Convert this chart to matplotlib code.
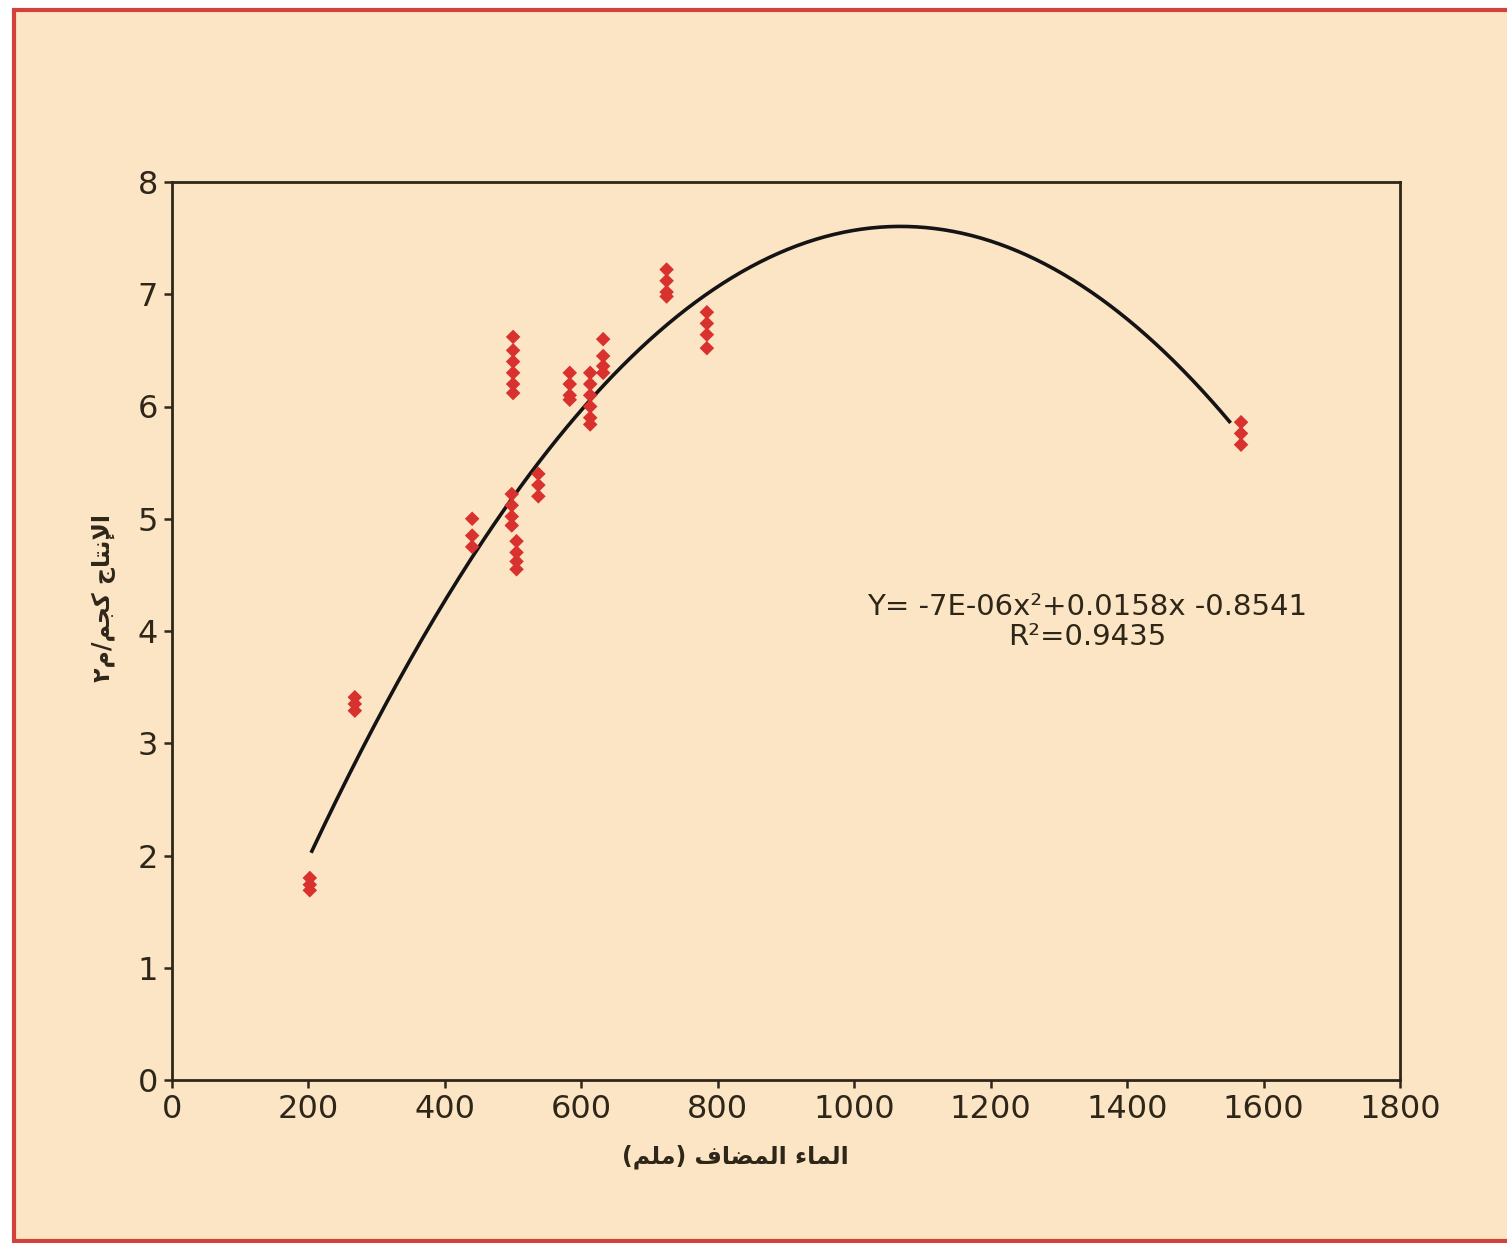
import numpy as np
import matplotlib
matplotlib.use("Agg")
import matplotlib.pyplot as plt
from matplotlib.patches import Rectangle

# ---- data ----
water_mm = [202, 202, 202,
            268, 268, 268,
            440, 440, 440,
            500, 500, 500, 500, 500, 500,
            498, 498, 498, 498,
            505, 505, 505, 505,
            537, 537, 537,
            583, 583, 583, 583,
            613, 613, 613, 613, 613, 613,
            632, 632, 632, 632,
            725, 725, 725, 725,
            784, 784, 784, 784,
            1567, 1567, 1567]
yield_kg = [1.80, 1.74, 1.69,
            3.41, 3.35, 3.29,
            5.00, 4.85, 4.75,
            6.62, 6.50, 6.40, 6.30, 6.20, 6.12,
            5.22, 5.12, 5.02, 4.94,
            4.80, 4.70, 4.62, 4.55,
            5.40, 5.30, 5.20,
            6.30, 6.20, 6.10, 6.06,
            6.30, 6.20, 6.10, 6.00, 5.90, 5.84,
            6.60, 6.45, 6.36, 6.30,
            7.22, 7.12, 7.02, 6.98,
            6.84, 6.74, 6.64, 6.52,
            5.86, 5.76, 5.66]
trend_coef = [-7.476e-6, 0.015966, -0.9201]
trend_range = [205, 1550]
x_ticks = [0, 200, 400, 600, 800, 1000, 1200, 1400, 1600, 1800]
y_ticks = [0, 1, 2, 3, 4, 5, 6, 7, 8]
equation_text = "Y= -7E-06x\u00b2+0.0158x -0.8541\nR\u00b2=0.9435"
# Arabic labels in visual order with presentation forms
x_label = "(\uFEE2\uFEE0\uFEE3) \uFED1\uFE8E\uFEC0\uFEE4\uFEDF\uFE8D \uFE80\uFE8E\uFEE4\uFEDF\uFE8D"
y_label = "\u0662\uFEE1/\uFEE2\uFEA0\uFEDB \uFE9D\uFE8E\uFE98\uFEE7\uFEF9\uFE8D"

# ---- style ----
bg = "#FCE5C5"
ink = "#2E2719"
red_border = "#D2413C"
marker_red = "#D8312E"

W, H = 1507, 1243
fig = plt.figure(figsize=(W / 100, H / 100), dpi=100)
fig.patch.set_facecolor("white")
frame = Rectangle((14 / W, 1 - 1241 / H), 1.2, (1241 - 10) / H,
                  transform=fig.transFigure, facecolor=bg,
                  edgecolor=red_border, linewidth=3, zorder=-10)
fig.patches.append(frame)

ax = fig.add_axes([172 / W, 1 - 1080 / H, (1400 - 172) / W, (1080 - 182) / H])
ax.set_zorder(5)
ax.patch.set_alpha(0)

xs = np.linspace(trend_range[0], trend_range[1], 300)
ax.plot(xs, np.polyval(trend_coef, xs), color="#141414", linewidth=2.6, zorder=2)

ax.scatter(water_mm, yield_kg, marker="D", s=55, color=marker_red,
           edgecolors="none", zorder=3)

ax.set_xlim(0, 1800)
ax.set_ylim(0, 8)
ax.set_xticks(x_ticks)
ax.set_yticks(y_ticks)
ax.tick_params(direction="out", length=6, width=1.8, colors=ink,
               labelsize=23, pad=4)
for sp in ax.spines.values():
    sp.set_color(ink)
    sp.set_linewidth(2.0)

ax.set_xlabel(x_label, fontsize=17, fontweight="bold", color=ink,
              family="DejaVu Sans")
ax.xaxis.set_label_coords(0.4585, -0.072)
ax.set_ylabel(y_label, fontsize=17, fontweight="bold", color=ink,
              family="DejaVu Sans")
ax.yaxis.set_label_coords(-0.046, 0.537)

ax.text(0.745, 0.510, equation_text, transform=ax.transAxes,
        ha="center", va="center", fontsize=21,
        color=ink, linespacing=1.1, zorder=4)

fig.savefig("out.png", dpi=100, facecolor=fig.get_facecolor())
